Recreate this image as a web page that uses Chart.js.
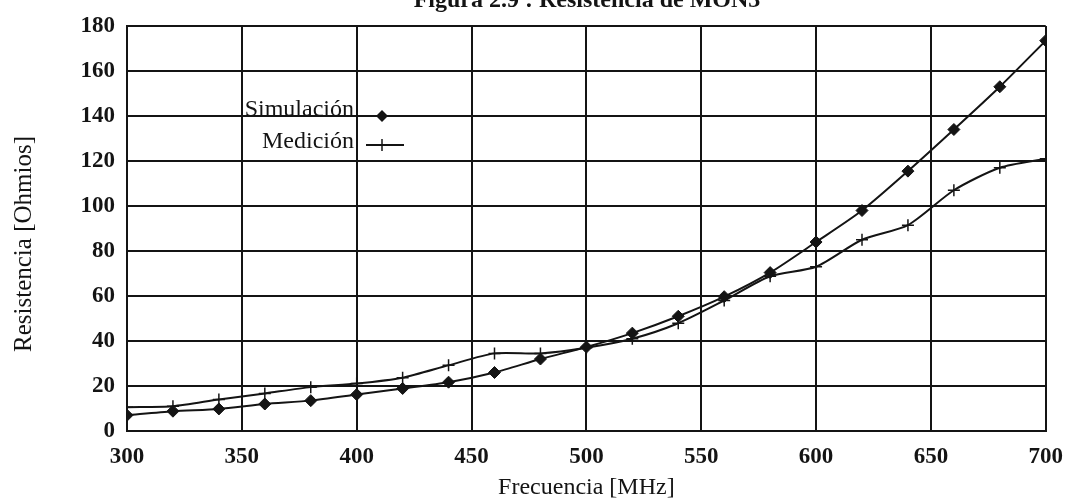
<!DOCTYPE html>
<html>
<head>
<meta charset="utf-8">
<title>Resistencia de MON3</title>
<script src="https://cdn.jsdelivr.net/npm/chart.js@4.4.1/dist/chart.umd.min.js"></script>
<style>
  html, body { margin: 0; padding: 0; background: #fff; }
  #wrap { width: 1075px; height: 500px; }
</style>
</head>
<body>
<div id="wrap"><canvas id="chart" width="1075" height="500"></canvas></div>
<script>
// Frecuencia [MHz], one point every 20 MHz
const frecuencias = [300, 320, 340, 360, 380, 400, 420, 440, 460, 480, 500,
                     520, 540, 560, 580, 600, 620, 640, 660, 680, 700];
// Resistencia [Ohmios]
const simulacion = [7.0, 8.8, 9.8, 12.0, 13.5, 16.2, 18.9, 21.7, 26.0, 32.0, 37.3,
                    43.5, 51.0, 59.7, 70.4, 84.0, 98.0, 115.5, 134.0, 153.0, 173.5];
const medicion = [10.6, 11.0, 14.0, 16.7, 19.5, 21.1, 23.7, 29.2, 34.5, 34.5, 37.0,
                  41.0, 47.9, 58.0, 68.8, 73.0, 85.0, 91.5, 107.0, 117.0, 121.0];
const serieNombres = ['Simulación', 'Medición'];
const xTicks = [300, 350, 400, 450, 500, 550, 600, 650, 700];
const yTicks = [0, 20, 40, 60, 80, 100, 120, 140, 160, 180];

const ink = '#141414';
const serif = "'Liberation Serif', 'Times New Roman', serif";

const toPoints = (ys) => frecuencias.map((f, i) => ({ x: f, y: ys[i] }));

// title (cut at the top of the page), y-axis title and the in-plot legend
const annotations = {
  id: 'annotations',
  afterDraw(chart) {
    const ctx = chart.ctx;
    ctx.save();
    ctx.fillStyle = ink;
    ctx.strokeStyle = ink;

    ctx.font = 'bold 24px ' + serif;
    ctx.textAlign = 'center';
    ctx.textBaseline = 'alphabetic';
    ctx.fillText('Figura 2.9 : Resistencia de MON3', 587, 7);

    ctx.save();
    ctx.translate(24, 244);
    ctx.rotate(-Math.PI / 2);
    ctx.font = '25px ' + serif;
    ctx.textBaseline = 'middle';
    ctx.fillText('Resistencia [Ohmios]', 0, 0);
    ctx.restore();

    ctx.font = '24px ' + serif;
    ctx.textAlign = 'right';
    ctx.textBaseline = 'middle';
    ctx.fillText(serieNombres[0], 354, 110);
    ctx.fillText(serieNombres[1], 354, 142);

    ctx.lineWidth = 2;
    ctx.beginPath();
    ctx.moveTo(357, 116); ctx.lineTo(405, 116);
    ctx.moveTo(366, 145); ctx.lineTo(404, 145);
    ctx.stroke();

    // diamond
    ctx.beginPath();
    ctx.moveTo(382, 110); ctx.lineTo(388, 116); ctx.lineTo(382, 122); ctx.lineTo(376, 116);
    ctx.closePath();
    ctx.fill();
    // cross
    ctx.lineWidth = 1.5;
    ctx.beginPath();
    ctx.moveTo(382, 139); ctx.lineTo(382, 151);
    ctx.stroke();
    ctx.restore();
  }
};

new Chart(document.getElementById('chart'), {
  type: 'line',
  data: {
    datasets: [
      {
        label: serieNombres[0],
        data: toPoints(simulacion),
        borderColor: ink,
        backgroundColor: ink,
        borderWidth: 2,
        tension: 0.25,
        pointStyle: 'rectRot',
        pointRadius: 6,
        pointBorderWidth: 1
      },
      {
        label: serieNombres[1],
        data: toPoints(medicion),
        borderColor: ink,
        backgroundColor: ink,
        borderWidth: 2,
        tension: 0.25,
        pointStyle: 'cross',
        pointRadius: 6,
        pointBorderWidth: 1.5
      }
    ]
  },
  options: {
    responsive: false,
    animation: false,
    layout: { padding: { top: 26, right: 24, left: 0, bottom: 0 } },
    plugins: {
      legend: { display: false },
      title: { display: false },
      tooltip: { enabled: false }
    },
    scales: {
      x: {
        type: 'linear',
        min: 300,
        max: 700,
        afterFit: (scale) => { scale.height = 69; },
        afterBuildTicks: (scale) => { scale.ticks = xTicks.map(v => ({ value: v })); },
        grid: { color: ink, lineWidth: 2, drawTicks: false },
        border: { color: ink, width: 2 },
        ticks: {
          padding: 12,
          color: ink,
          font: { family: serif, size: 23, weight: 'bold' }
        },
        title: {
          display: true,
          text: 'Frecuencia [MHz]',
          color: ink,
          font: { family: serif, size: 24, lineHeight: 1 },
          padding: 0
        }
      },
      y: {
        min: 0,
        max: 180,
        afterFit: (scale) => { scale.width = 127; },
        afterBuildTicks: (scale) => { scale.ticks = yTicks.map(v => ({ value: v })); },
        grid: { color: ink, lineWidth: 2, drawTicks: false },
        border: { color: ink, width: 2 },
        ticks: {
          padding: 12,
          color: ink,
          font: { family: serif, size: 23, weight: 'bold' }
        }
      }
    }
  },
  plugins: [annotations]
});
</script>
</body>
</html>
